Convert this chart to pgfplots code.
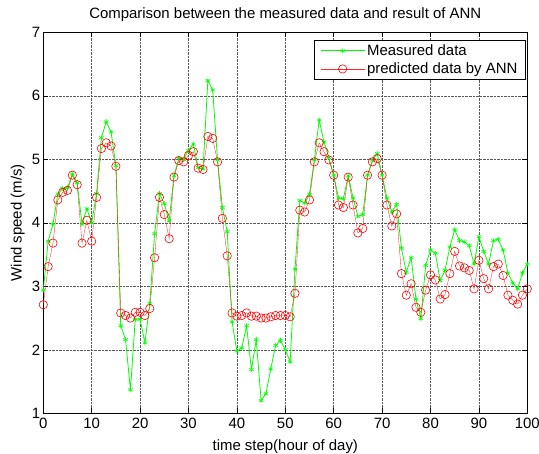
\documentclass[border=0pt]{standalone}
\usepackage{fontspec}
\setmainfont{Liberation Sans}
\usepackage{pgfplots}
\pgfplotsset{compat=1.18}
\pgfplotstableread{
x meas pred
0 2.94 2.71
1 3.71 3.31
2 3.98 3.68
3 4.45 4.36
4 4.54 4.48
5 4.55 4.51
6 4.77 4.75
7 4.63 4.60
8 3.98 3.68
9 4.22 4.04
10 4.00 3.71
11 4.46 4.40
12 5.34 5.17
13 5.59 5.26
14 5.43 5.21
15 4.90 4.89
16 2.38 2.58
17 2.16 2.54
18 1.37 2.50
19 2.48 2.59
20 2.48 2.59
21 2.11 2.54
22 2.73 2.65
23 3.83 3.45
24 4.46 4.40
25 4.30 4.13
26 4.03 3.75
27 4.74 4.72
28 5.02 4.98
29 5.00 4.96
30 5.14 5.06
31 5.24 5.12
32 4.87 4.86
33 4.85 4.84
34 6.24 5.36
35 6.09 5.33
36 4.99 4.96
37 4.24 4.07
38 3.86 3.48
39 2.44 2.58
40 1.98 2.53
41 2.03 2.54
42 2.38 2.58
43 1.69 2.53
44 2.16 2.53
45 1.20 2.50
46 1.31 2.50
47 1.70 2.52
48 2.07 2.54
49 2.15 2.54
50 2.00 2.54
51 1.81 2.52
52 3.27 2.89
53 4.35 4.20
54 4.31 4.17
55 4.45 4.36
56 4.99 4.96
57 5.62 5.26
58 5.27 5.12
59 5.03 4.99
60 4.75 4.75
61 4.39 4.28
62 4.38 4.24
63 4.74 4.72
64 4.39 4.28
65 4.10 3.84
66 4.13 3.91
67 4.75 4.75
68 4.99 4.96
69 5.09 5.01
70 4.75 4.75
71 4.39 4.28
72 4.17 3.95
73 4.29 4.14
74 3.60 3.20
75 3.22 2.86
76 3.45 3.04
77 2.80 2.67
78 2.49 2.59
79 3.33 2.94
80 3.57 3.18
81 3.52 3.10
82 3.09 2.80
83 3.25 2.87
84 3.62 3.20
85 3.89 3.55
86 3.72 3.32
87 3.70 3.29
88 3.64 3.25
89 3.35 2.96
90 3.78 3.41
91 3.55 3.12
92 3.35 2.96
93 3.72 3.31
94 3.74 3.35
95 3.57 3.17
96 3.21 2.86
97 3.05 2.78
98 2.96 2.72
99 3.21 2.86
100 3.35 2.96
}\datatable
\begin{document}
\fontsize{15}{17}\selectfont
\begin{tikzpicture}
\begin{axis}[
  name=ax,
  scale only axis,
  width=484bp, height=381bp,
  xmin=0, xmax=100, ymin=1, ymax=7,
  xtick={0,10,...,100}, ytick={1,2,...,7},
  grid=major,
  grid style={densely dotted, black!65, line width=0.45pt},
  tick align=inside,
  major tick length=5bp,
  axis line style={black, line width=0.9pt},
  tick style={black, line width=0.5pt},
  /pgf/number format/assume math mode=true,
  tick label style={font=\fontsize{15}{17}\selectfont},
  yticklabel style={xshift=2bp},
  label style={font=\fontsize{15}{17}\selectfont},
  ylabel shift=-3bp,
  title style={font=\fontsize{15}{17}\selectfont},
  title={Comparison between the measured data and result of ANN},
  xlabel={time step(hour of day)},
  ylabel={Wind speed (m/s)},
  legend style={at={(0.997,0.98)}, anchor=north east, draw=black, line width=0.9pt,
    font=\fontsize{15}{17}\selectfont, inner xsep=6bp, inner ysep=2bp, row sep=1bp},
  legend image code/.code={\draw[mark repeat=2, mark phase=2, #1] plot coordinates {(0bp,0bp) (22bp,0bp) (44bp,0bp)};},
  legend cell align=left,
]
\addplot[color=green, line width=0.8pt, mark=asterisk, mark size=2.6pt, mark options={solid, line width=0.6pt}]
  table[x=x, y=meas] {\datatable};
\addlegendentry{Measured data}
\addplot[color=red!85, line width=0.35pt, mark=o, mark size=4.2pt, mark options={solid, line width=0.6pt, draw=red}]
  table[x=x, y=pred] {\datatable};
\addlegendentry{predicted data by ANN\hspace{12bp}}
\end{axis}
\pgfresetboundingbox
\path ([xshift=-43.3bp,yshift=-40.7bp]ax.south west) rectangle ([xshift=11.7bp,yshift=32.3bp]ax.north east);
\end{tikzpicture}
\end{document}
